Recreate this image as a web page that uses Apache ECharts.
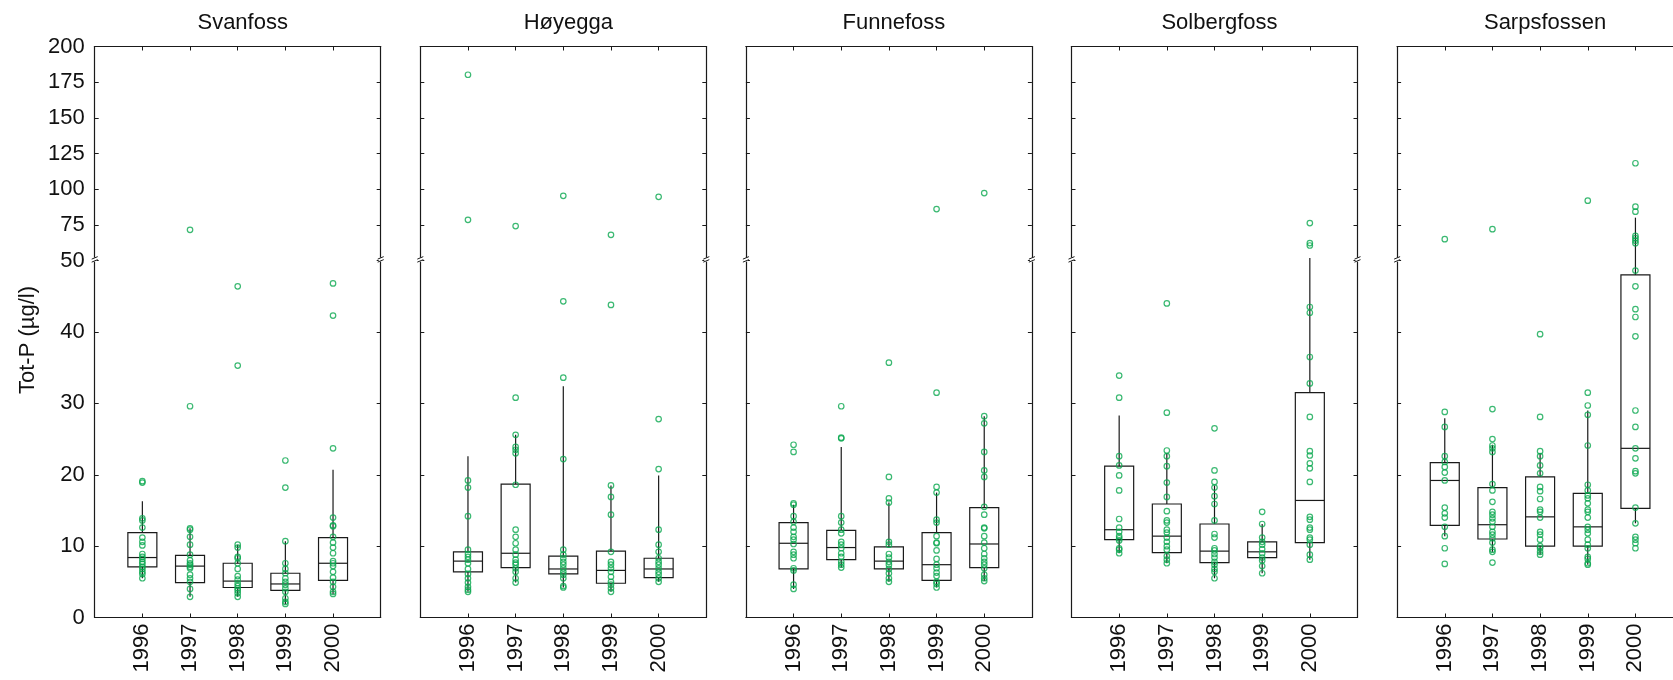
<!DOCTYPE html>
<html>
<head>
<meta charset="utf-8">
<script src="https://cdn.jsdelivr.net/npm/echarts@6.0.0/dist/echarts.min.js"></script>
<style>
html, body { margin: 0; padding: 0; background: #fff; }
#main { width: 1673px; height: 680px; }
</style>
</head>
<body>
<div id="main"></div>
<script>
var stations = ['Svanfoss', 'Høyegga', 'Funnefoss', 'Solbergfoss', 'Sarpsfossen'];
var years = ['1996', '1997', '1998', '1999', '2000'];
var yTicks = [0, 10, 20, 30, 40, 50, 75, 100, 125, 150, 175, 200];

// measured values per year (µg/l)
var svanfossPts = [
	[19.1, 18.9, 13.9, 13.6, 12.6, 11.2, 10.6, 10.1, 8.9, 8.5, 8.2, 7.8, 7.5, 7.1, 6.8, 6.4, 6.1, 5.5],
	[71.6, 29.6, 12.5, 12.3, 11.3, 10.2, 8.8, 8.0, 7.6, 7.4, 7.1, 6.9, 6.0, 5.5, 5.0, 4.0, 2.9],
	[46.4, 35.3, 10.2, 9.8, 8.5, 8.3, 7.6, 6.8, 5.8, 5.3, 4.8, 4.4, 4.1, 3.8, 3.4, 2.9],
	[22.0, 18.2, 10.7, 7.6, 6.8, 6.2, 5.5, 5.0, 4.6, 4.1, 3.6, 2.7, 2.2, 1.9],
	[46.8, 42.3, 23.7, 14.0, 12.9, 12.8, 11.3, 10.5, 9.8, 9.0, 7.9, 7.6, 7.2, 6.4, 5.6, 5.0, 4.3, 3.6, 3.3]
];
// [whisker low, q1, median, q3, whisker high]
var svanfossBox = [
	[5.5, 7.1, 8.4, 11.9, 16.3],
	[2.9, 4.9, 7.2, 8.7, 12.5],
	[2.9, 4.2, 5.1, 7.6, 10.2],
	[1.9, 3.8, 4.7, 6.2, 10.7],
	[3.3, 5.2, 7.6, 11.2, 20.7]
];

var hoyeggaPts = [
	[180.2, 78.6, 19.2, 18.2, 14.2, 9.5, 8.9, 8.5, 8.1, 7.6, 6.8, 6.1, 5.5, 4.9, 4.3, 3.9, 3.6],
	[74.2, 30.8, 25.6, 23.9, 23.5, 23.0, 18.6, 12.3, 11.3, 10.4, 9.5, 8.8, 8.1, 7.7, 7.4, 6.9, 6.4, 5.5, 4.9],
	[95.4, 44.3, 33.6, 22.2, 9.5, 8.8, 8.3, 7.8, 7.4, 6.9, 6.4, 6.0, 5.5, 4.4, 4.2],
	[68.1, 43.8, 18.5, 16.9, 14.4, 9.2, 7.8, 7.4, 6.9, 6.4, 5.7, 5.0, 4.6, 4.1, 3.6],
	[94.7, 27.8, 20.8, 12.3, 10.2, 9.2, 8.3, 7.8, 7.4, 6.9, 6.4, 6.0, 5.5, 5.0]
];
var hoyeggaBox = [
	[3.6, 6.4, 7.9, 9.2, 22.6],
	[4.9, 7.0, 9.0, 18.7, 25.6],
	[4.2, 6.1, 6.8, 8.6, 32.4],
	[3.6, 4.8, 6.6, 9.3, 18.5],
	[5.0, 5.6, 6.8, 8.3, 19.9]
];

var funnefossPts = [
	[24.2, 23.2, 16.0, 15.8, 14.2, 13.4, 12.6, 12.0, 11.3, 10.9, 10.3, 9.2, 8.8, 8.3, 6.9, 6.6, 4.6, 4.0],
	[29.6, 25.2, 25.1, 14.2, 13.3, 12.3, 11.8, 10.6, 10.2, 9.7, 9.0, 8.5, 7.8, 7.4, 7.0],
	[35.7, 19.7, 16.7, 16.1, 10.6, 10.2, 8.9, 8.4, 7.8, 7.4, 6.8, 6.2, 5.5, 5.0],
	[86.1, 31.5, 18.3, 17.5, 13.7, 13.3, 11.4, 10.5, 10.4, 9.4, 8.2, 7.4, 6.9, 6.3, 5.8, 5.0, 4.7, 4.2],
	[97.3, 28.2, 27.2, 23.2, 20.6, 19.7, 15.5, 14.4, 12.6, 12.5, 11.4, 10.5, 9.7, 8.9, 8.3, 7.8, 7.4, 6.9, 6.0, 5.5, 5.1]
];
var funnefossBox = [
	[4.0, 6.8, 10.4, 13.3, 15.8],
	[7.0, 8.1, 9.8, 12.2, 23.9],
	[5.0, 6.8, 7.9, 9.9, 16.1],
	[4.2, 5.2, 7.4, 11.9, 17.5],
	[5.1, 7.0, 10.3, 15.4, 28.2]
];

var solbergfossPts = [
	[33.9, 30.8, 22.6, 21.3, 19.9, 17.8, 13.8, 12.6, 12.0, 11.4, 11.1, 10.8, 9.7, 9.5, 9.0],
	[44.0, 28.7, 23.4, 22.6, 21.2, 18.9, 16.9, 14.9, 13.6, 13.3, 12.3, 11.9, 11.2, 10.6, 10.0, 9.5, 8.6, 8.1, 7.6],
	[26.5, 20.6, 19.0, 18.2, 17.0, 15.9, 13.6, 11.7, 11.2, 9.7, 9.4, 8.9, 8.4, 7.8, 7.4, 6.8, 6.4, 5.5],
	[14.8, 13.1, 11.2, 10.6, 10.2, 9.6, 9.0, 8.4, 8.0, 7.2, 6.2],
	[76.3, 62.3, 60.6, 43.5, 42.7, 36.5, 32.8, 28.1, 23.3, 22.7, 21.6, 20.9, 19.0, 14.1, 13.7, 12.6, 12.3, 11.2, 10.9, 10.2, 8.8, 8.1]
];
var solbergfossBox = [
	[9.0, 10.9, 12.3, 21.2, 28.3],
	[7.6, 9.1, 11.4, 15.9, 23.0],
	[5.5, 7.7, 9.3, 13.1, 18.5],
	[6.2, 8.4, 9.2, 10.6, 13.1],
	[8.1, 10.5, 16.4, 31.5, 51.8]
];

var sarpsfossenPts = [
	[65.0, 28.8, 26.7, 22.6, 21.8, 21.1, 20.3, 19.2, 15.4, 14.6, 14.0, 12.7, 11.4, 9.7, 7.5],
	[72.0, 29.2, 25.0, 24.1, 23.7, 23.2, 18.7, 17.8, 16.2, 14.8, 14.4, 13.9, 13.4, 12.7, 12.0, 11.6, 11.1, 10.5, 9.5, 9.2, 7.7],
	[39.7, 28.1, 23.3, 22.6, 21.3, 20.2, 18.3, 17.7, 16.6, 15.1, 14.8, 14.0, 12.0, 11.6, 10.9, 10.0, 9.7, 9.2, 8.8],
	[92.0, 31.5, 29.7, 28.4, 24.1, 18.6, 17.8, 17.1, 16.7, 16.0, 15.1, 14.8, 14.0, 12.7, 12.3, 11.8, 10.9, 10.2, 9.7, 8.5, 8.2, 7.6, 7.4],
	[118.2, 87.8, 84.3, 67.3, 65.7, 64.0, 62.2, 48.6, 46.4, 43.2, 42.1, 39.4, 29.0, 26.7, 23.7, 22.3, 20.5, 20.2, 15.4, 13.2, 11.3, 10.9, 10.4, 9.7]
];
var sarpsfossenBox = [
	[11.4, 12.9, 19.2, 21.7, 27.9],
	[9.2, 11.0, 13.0, 18.2, 24.2],
	[8.8, 10.0, 14.1, 19.7, 23.0],
	[7.4, 10.0, 12.7, 17.4, 29.0],
	[13.2, 15.3, 23.7, 48.0, 80.1]
];

var allPts = [svanfossPts, hoyeggaPts, funnefossPts, solbergfossPts, sarpsfossenPts];
var allBox = [svanfossBox, hoyeggaBox, funnefossBox, solbergfossBox, sarpsfossenBox];

// broken axis: 0-50 linear, above 50 compressed 5x
var BREAK = 50, SQUEEZE = 5;
function tr(v) { return v <= BREAK ? v : BREAK + (v - BREAK) / SQUEEZE; }
function untr(t) { return t <= BREAK ? t : BREAK + (t - BREAK) * SQUEEZE; }

var FONT = '"Liberation Sans", Arial, Helvetica, sans-serif';
var GREEN = '#0aa84f';
var LINE = '#1a1a1a';
var panelLeft = 94.7, panelStep = 325.6, panelW = 286, panelTop = 46.5, panelH = 571;

var tickT = yTicks.map(tr);
var cats = [''].concat(years, ['']);

var grids = [], xAxes = [], yAxes = [], series = [], titles = [];

stations.forEach(function (name, i) {
	var left = panelLeft + i * panelStep;
	// last panel runs past the right edge, as in the original figure
	grids.push({ left: left, top: panelTop, width: panelW, height: panelH, outerBoundsMode: 'none' });
	titles.push({
		text: name, left: left + panelW / 2, top: 7, textAlign: 'center',
		textStyle: { fontFamily: FONT, fontSize: 22, fontWeight: 'normal', color: '#111' }
	});
	['bottom', 'top'].forEach(function (pos) {
		xAxes.push({
			type: 'category', gridIndex: i, position: pos, data: cats, boundaryGap: false,
			axisLine: { onZero: false, lineStyle: { color: LINE, width: 1.2 } },
			axisTick: { inside: true, length: 4, interval: 0, lineStyle: { color: LINE } },
			axisLabel: {
				show: pos === 'bottom', interval: 0, rotate: 90, margin: 6,
				fontFamily: FONT, fontSize: 22, color: '#111'
			},
			splitLine: { show: false }
		});
	});
	['left', 'right'].forEach(function (pos) {
		yAxes.push({
			type: 'value', gridIndex: i, position: pos, min: 0, max: tr(200),
			axisLine: { show: true, lineStyle: { color: LINE, width: 1.2 } },
			axisTick: { show: true, inside: true, length: 4, customValues: tickT, lineStyle: { color: LINE } },
			axisLabel: {
				show: i === 0 && pos === 'left', customValues: tickT, margin: 10,
				fontFamily: FONT, fontSize: 22, color: '#111',
				formatter: function (t) { return String(Math.round(untr(t))); }
			},
			splitLine: { show: false }
		});
	});

	var boxData = allBox[i].map(function (b, k) {
		return [k + 1].concat(b.map(tr));
	});
	series.push({
		type: 'custom', xAxisIndex: 2 * i, yAxisIndex: 2 * i, data: boxData, z: 2,
		renderItem: function (params, api) {
			var x = api.value(0);
			var lo = api.coord([x, api.value(1)]);
			var q1 = api.coord([x, api.value(2)]);
			var md = api.coord([x, api.value(3)]);
			var q3 = api.coord([x, api.value(4)]);
			var hi = api.coord([x, api.value(5)]);
			var hw = 14.5;
			var st = { stroke: LINE, lineWidth: 1.2, fill: null };
			return {
				type: 'group',
				children: [
					{ type: 'line', shape: { x1: hi[0], y1: hi[1], x2: q3[0], y2: q3[1] }, style: st },
					{ type: 'line', shape: { x1: q1[0], y1: q1[1], x2: lo[0], y2: lo[1] }, style: st },
					{ type: 'rect', shape: { x: q3[0] - hw, y: q3[1], width: 2 * hw, height: q1[1] - q3[1] }, style: st },
					{ type: 'line', shape: { x1: md[0] - hw, y1: md[1], x2: md[0] + hw, y2: md[1] }, style: st }
				]
			};
		}
	});

	var pts = [];
	allPts[i].forEach(function (vals, k) {
		vals.forEach(function (v) { pts.push([k + 1, tr(v)]); });
	});
	series.push({
		type: 'scatter', xAxisIndex: 2 * i, yAxisIndex: 2 * i, data: pts, z: 3,
		symbol: 'circle', symbolSize: 5.5,
		itemStyle: { color: 'rgba(0,0,0,0)', borderColor: GREEN, borderWidth: 1.2 },
		silent: true
	});
});

var chart = echarts.init(document.getElementById('main'), null, { renderer: 'canvas' });
chart.setOption({
	animation: false,
	backgroundColor: '#fff',
	title: titles,
	grid: grids,
	xAxis: xAxes,
	yAxis: yAxes,
	series: series
});

// axis break marks and y axis name
var gfx = [{
	type: 'text', x: 28, y: 340, rotation: Math.PI / 2,
	style: {
		text: 'Tot-P (µg/l)', fontFamily: FONT, fontSize: 22, fill: '#111',
		textAlign: 'center', textVerticalAlign: 'middle'
	}
}];
stations.forEach(function (name, i) {
	[0, cats.length - 1].forEach(function (ci) {
		var p = chart.convertToPixel({ xAxisIndex: 2 * i, yAxisIndex: 2 * i }, [ci, BREAK]);
		gfx.push({ type: 'rect', shape: { x: p[0] - 2, y: p[1] - 3, width: 4, height: 4 }, style: { fill: '#fff' }, z: 10 });
		gfx.push({ type: 'line', shape: { x1: p[0] - 3, y1: p[1] - 1.5, x2: p[0] + 3, y2: p[1] - 4 }, style: { stroke: LINE, lineWidth: 1 }, z: 11 });
		gfx.push({ type: 'line', shape: { x1: p[0] - 3, y1: p[1] + 1.5, x2: p[0] + 3, y2: p[1] - 1 }, style: { stroke: LINE, lineWidth: 1 }, z: 11 });
	});
});
chart.setOption({ graphic: gfx });
</script>
</body>
</html>
